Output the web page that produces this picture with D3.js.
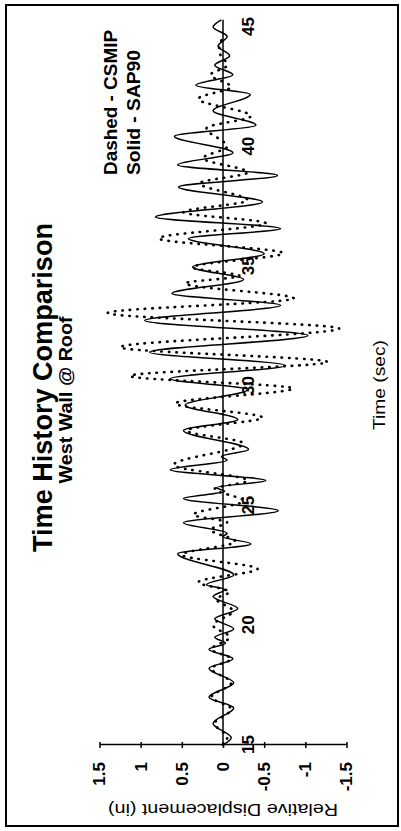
<!DOCTYPE html>
<html>
<head>
<meta charset="utf-8">
<script src="https://cdn.jsdelivr.net/npm/d3@7"></script>
<style>
  body { margin: 0; background: #fff; }
  svg { display: block; font-family: "Liberation Sans", Arial, sans-serif; }
</style>
</head>
<body>
<svg id="chart" width="401" height="831"></svg>
<script>
// time (sec) and relative displacement (in) at the turning points of each trace
const sap90Time = [15.0, 15.3, 15.9, 16.55, 17.0, 17.6, 18.2, 18.6, 19.0, 19.25, 19.5, 19.85, 20.27, 20.7, 21.2, 21.5, 21.7, 22.1,
  22.99, 23.4, 23.7, 23.85, 24.29, 24.79, 25.3, 25.6, 25.75, 26.05, 26.5, 26.9, 27.05, 27.35, 28.14, 28.6, 29.2, 29.85,
  30.3, 30.86, 31.41, 32.11, 32.74, 33.37, 33.86, 34.45, 34.97, 35.53, 36.16, 36.58, 37.06, 37.69, 38.32, 38.8, 39.23,
  39.75, 40.44, 40.9, 41.5, 42.18, 42.57, 43.0, 43.4, 43.8, 44.2, 44.6, 45.0, 45.3]
const sap90Disp = [0.0, -0.1, 0.12, -0.13, 0.17, -0.13, 0.17, -0.12, 0.17, -0.03, 0.1, -0.13, 0.1, -0.18, 0.12, -0.02, 0.2, -0.13,
  0.55, -0.34, 0.0, -0.05, 0.48, -0.67, 0.48, -0.02, 0.08, -0.52, 0.64, -0.05, 0.02, -0.31, 0.48, -0.18, 0.46, -0.3,
  0.64, -0.76, 0.89, -1.03, 0.95, -0.7, 0.62, -0.25, 0.37, -0.5, 0.42, -0.7, 0.82, -0.48, 0.54, -0.66, 0.55,
  -0.12, 0.59, -0.4, 0.12, -0.33, 0.33, -0.12, 0.1, -0.08, 0.06, -0.05, 0.12, 0.02]

const csmipTime = [15.0, 15.3, 15.9, 16.5, 17.0, 17.6, 18.2, 18.6, 19.0, 19.5, 20.0, 20.6, 21.1, 21.4, 21.8, 22.36, 22.95,
  23.5, 24.0, 24.3, 24.62, 25.2, 25.7, 26.05, 26.7, 27.6, 28.14, 28.68, 29.27, 29.9, 30.42, 31.0, 31.62, 32.4, 33.05,
  33.66, 34.29, 34.6, 34.96, 35.55, 36.17, 36.8, 37.26, 37.76, 38.47, 38.93, 39.52, 40.0, 40.77, 41.28, 42.0, 42.5,
  43.0, 43.4, 44.0, 44.6]
const csmipDisp = [0.0, -0.05, 0.1, -0.1, 0.14, -0.1, 0.14, -0.1, 0.14, -0.08, 0.12, -0.12, 0.08, -0.08, 0.3, -0.42, 0.5,
  -0.15, 0.15, -0.05, 0.36, -0.25, 0.1, -0.3, 0.6, -0.25, 0.44, -0.48, 0.58, -0.85, 1.13, -1.27, 1.25, -1.41, 1.40,
  -0.86, 0.46, -0.2, 0.37, -0.73, 0.78, -0.52, 0.48, -0.3, 0.28, -0.3, 0.24, -0.05, 0.2, -0.34, 0.3, -0.1,
  0.15, -0.05, 0.05, 0.0]

const dispTicks = [1.5, 1, 0.5, 0, -0.5, -1, -1.5]
const timeTicks = [15, 20, 25, 30, 35, 40, 45]

const W = 831, H = 401   // chart is drawn upright, then turned a quarter turn

const svg = d3.select('#chart')

svg.append('rect')
  .attr('x', 6).attr('y', 5).attr('width', 392).attr('height', 821)
  .attr('fill', 'none').attr('stroke', '#000').attr('stroke-width', 2)

const g = svg.append('g').attr('transform', 'translate(0,' + W + ') rotate(-90)')

const x = d3.scaleLinear().domain([15, 45]).range([86, 804])
const y = d3.scaleLinear().domain([-1.5, 1.5]).range([346.5, 99.5])

// displacement axis
const yAxis = g.append('g')
  .attr('transform', 'translate(' + x(15) + ',0)')
  .call(d3.axisLeft(y).tickValues(dispTicks).tickSizeInner(3).tickSizeOuter(0).tickPadding(14)
    .tickFormat(d => String(d)))
yAxis.select('.domain').attr('stroke-width', 1.5)
yAxis.selectAll('.tick line').attr('x1', -3).attr('x2', 3).attr('stroke-width', 1.5)
yAxis.selectAll('.tick text')
  .attr('font-size', 17).attr('font-weight', 'bold')
  .attr('font-family', '"Liberation Sans", Arial, sans-serif').attr('fill', '#000')

// time axis through zero
g.append('line')
  .attr('x1', x(15)).attr('x2', x(45.3))
  .attr('y1', y(0)).attr('y2', y(0))
  .attr('stroke', '#000').attr('stroke-width', 1.5)

const xAxis = g.append('g')
  .attr('transform', 'translate(0,' + y(0) + ')')
  .call(d3.axisBottom(x).tickValues(timeTicks).tickSize(0).tickPadding(18.5))
xAxis.select('.domain').remove()
xAxis.selectAll('.tick text')
  .attr('font-size', 17).attr('font-weight', 'bold')
  .attr('font-family', '"Liberation Sans", Arial, sans-serif').attr('fill', '#000')

const line = d3.line()
  .x(d => x(d[0]))
  .y(d => y(d[1]))
  .curve(d3.curveMonotoneX)

g.append('path')
  .datum(csmipTime.map((t, i) => [t, csmipDisp[i]]))
  .attr('d', line)
  .attr('fill', 'none').attr('stroke', '#000')
  .attr('stroke-width', 2.6).attr('stroke-linecap', 'round')
  .attr('stroke-dasharray', '0.5 7')

g.append('path')
  .datum(sap90Time.map((t, i) => [t, sap90Disp[i]]))
  .attr('d', line)
  .attr('fill', 'none').attr('stroke', '#000').attr('stroke-width', 1.5)

// titles and labels
g.append('text')
  .attr('x', 443.5).attr('y', 52)
  .attr('text-anchor', 'middle').attr('font-size', 28).attr('font-weight', 'bold')
  .attr('textLength', 329).attr('lengthAdjust', 'spacingAndGlyphs')
  .text('Time History Comparison')

g.append('text')
  .attr('x', 431).attr('y', 72)
  .attr('text-anchor', 'middle').attr('font-size', 18).attr('font-weight', 'bold')
  .attr('textLength', 167).attr('lengthAdjust', 'spacingAndGlyphs')
  .text('West Wall @ Roof')

g.append('text')
  .attr('x', 656).attr('y', 117)
  .attr('font-size', 18).attr('font-weight', 'bold')
  .attr('textLength', 145).attr('lengthAdjust', 'spacingAndGlyphs')
  .text('Dashed - CSMIP')

g.append('text')
  .attr('x', 656).attr('y', 140)
  .attr('font-size', 18).attr('font-weight', 'bold')
  .attr('textLength', 125).attr('lengthAdjust', 'spacingAndGlyphs')
  .text('Solid - SAP90')

g.append('text')
  .attr('x', 446).attr('y', 385)
  .attr('text-anchor', 'middle').attr('font-size', 16)
  .attr('textLength', 90).attr('lengthAdjust', 'spacingAndGlyphs')
  .text('Time (sec)')

g.append('text')
  .attr('transform', 'translate(27,' + y(0) + ') rotate(-90)')
  .attr('text-anchor', 'middle').attr('font-size', 16)
  .attr('textLength', 230).attr('lengthAdjust', 'spacingAndGlyphs')
  .text('Relative Displacement (in)')
</script>
</body>
</html>
